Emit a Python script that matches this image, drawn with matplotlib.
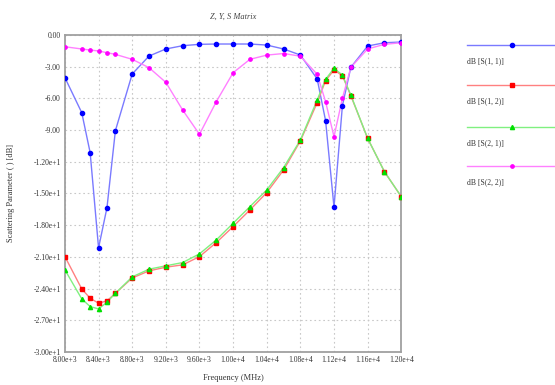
import matplotlib
matplotlib.use("Agg")
import matplotlib.pyplot as plt
from matplotlib.lines import Line2D

# frequency points (MHz)
freq = [8000, 8200, 8300, 8400, 8500, 8600, 8800, 9000, 9200, 9400, 9600, 9800,
        10000, 10200, 10400, 10600, 10800, 11000, 11100, 11200, 11300, 11400,
        11600, 11800, 12000]

s11 = [-4.04, -7.35, -11.14, -20.16, -16.34, -9.06, -3.69, -1.99, -1.32, -1.01,
       -0.88, -0.85, -0.85, -0.85, -0.95, -1.32, -1.89, -4.16, -8.11, -16.3,
       -6.69, -3.06, -1.04, -0.73, -0.66]
s12 = [-20.98, -24.04, -24.92, -25.39, -25.17, -24.45, -23.0, -22.33, -21.98,
       -21.76, -20.98, -19.65, -18.14, -16.56, -14.92, -12.78, -10.03, -6.4,
       -4.32, -3.31, -3.85, -5.74, -9.78, -12.94, -15.3]
s21 = [-22.24, -24.98, -25.71, -25.93, -25.30, -24.45, -22.9, -22.17, -21.85,
       -21.54, -20.72, -19.4, -17.82, -16.25, -14.67, -12.56, -9.94, -6.15,
       -4.19, -3.15, -3.79, -5.68, -9.78, -12.94, -15.3]
s22 = [-1.11, -1.32, -1.42, -1.51, -1.67, -1.83, -2.30, -3.09, -4.48, -7.10,
       -9.40, -6.31, -3.57, -2.30, -1.9, -1.75, -2.0, -3.72, -6.31, -9.62,
       -5.99, -3.06, -1.32, -0.88, -0.73]

series = [
    ("dB [S(1, 1)]", s11, "#0000ff", "#7a7aff", "o", 3.0),
    ("dB [S(1, 2)]", s12, "#ff0000", "#ff8080", "s", 2.7),
    ("dB [S(2, 1)]", s21, "#00e000", "#80f080", "^", 3.0),
    ("dB [S(2, 2)]", s22, "#ff00ff", "#ff80ff", "o", 2.4),
]

xticks = [8000 + 400 * i for i in range(11)]
xtick_labels = ["8.00e+3", "8.40e+3", "8.80e+3", "9.20e+3", "9.60e+3", "1.00e+4",
                "1.04e+4", "1.08e+4", "1.12e+4", "1.16e+4", "1.20e+4"]
yticks = [0, -3, -6, -9, -12, -15, -18, -21, -24, -27, -30]
ytick_labels = ["0.00", "-3.00", "-6.00", "-9.00", "-1.20e+1", "-1.50e+1",
                "-1.80e+1", "-2.10e+1", "-2.40e+1", "-2.70e+1", "-3.00e+1"]

plt.rcParams["font.family"] = ["Liberation Serif", "DejaVu Serif"]

fig = plt.figure(figsize=(5.55, 3.85), dpi=100)
ax = fig.add_axes([0.117, 0.086, 0.606, 0.823])

for label, vals, mc, lc, mk, ms in series:
    ax.plot(freq, vals, color=lc, lw=1.0, zorder=2)
    ax.plot(freq, vals, ls="none", marker=mk, ms=ms, color=mc, mec=mc, zorder=3)

ax.set_xlim(8000, 12000)
ax.set_ylim(-30, 0)
ax.set_xticks(xticks)
ax.set_xticklabels(xtick_labels, fontsize=5.5, color="#333333")
ax.set_yticks(yticks)
ax.set_yticklabels(ytick_labels, fontsize=5.5, color="#333333")
ax.tick_params(length=0, pad=3)
ax.grid(True, ls=(0, (1.5, 2.5)), color="#c8c8c8", lw=0.8)
for sp in ax.spines.values():
    sp.set_color("#a0a0a0")
    sp.set_linewidth(1.3)

ax.set_title("Z, Y, S Matrix", fontsize=6, style="italic", color="#444444", pad=12)
ax.set_xlabel("Frequency (MHz)", fontsize=6, color="#333333", labelpad=7)
ax.set_ylabel("Scattering Parameter ( ) [dB]", fontsize=6, color="#333333", labelpad=13)

# legend drawn to the right, label under each line
leg_y = [0.883, 0.779, 0.670, 0.569]
for (label, vals, mc, lc, mk, ms), y in zip(series, leg_y):
    fig.add_artist(Line2D([0.842, 1.0], [y, y], transform=fig.transFigure,
                          color=lc, lw=1.0))
    fig.add_artist(Line2D([0.922], [y], transform=fig.transFigure, ls="none",
                          marker=mk, ms=ms, color=mc, mec=mc))
    fig.text(0.842, y - 0.043, label, fontsize=5.5, color="#333333", va="center")

fig.savefig("out.png", dpi=100)
